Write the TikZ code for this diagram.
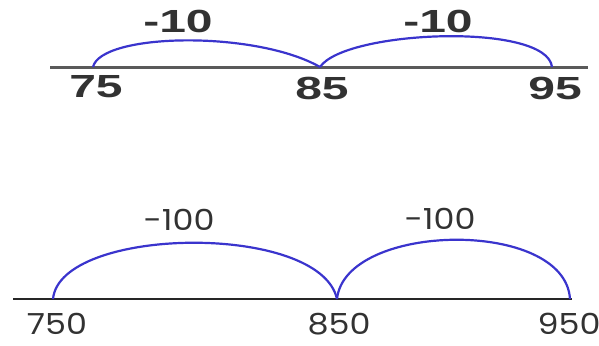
\documentclass[tikz,border=0pt]{standalone}
\usepackage{fontspec}
\usepackage{graphicx}
\newfontfamily\boldsans{Liberation Sans}[BoldFont={Liberation Sans Bold}]
\newfontfamily\roundsans{Poppins}
\definecolor{jumpblue}{RGB}{58,52,205}
\definecolor{linegray}{RGB}{90,90,90}
\definecolor{textgray}{RGB}{50,50,50}
\usetikzlibrary{positioning,calc}

\begin{document}
\begin{tikzpicture}[x=1pt,y=-1pt,
    jump/.style={jumpblue, line width=2.2pt},
    smallnum/.style={inner sep=0pt, text=textgray, font=\boldsans\bfseries\fontsize{32}{32}\selectfont},
    bignum/.style={inner sep=0pt, text=textgray, font=\roundsans\fontsize{29}{29}\selectfont}]
    \useasboundingbox (0,0) rectangle (599,345);

    % Top number line
    \coordinate (tl) at (50,67);
    \coordinate (tr) at (588,67);
    \coordinate (t75) at (93,67);
    \coordinate (t85) at (320,67);
    \coordinate (t95) at (552,67);
    \draw[linegray, line width=3pt] (tl) -- (tr);

    % Jumps of ten
    \draw[jump] (t75) .. controls (101,33) and (255,30) .. (t85);
    \draw[jump] (t85) .. controls (345,30) and (547,22) .. (t95);

    % Labels
    \node[smallnum] (n75) at (96,87) {\scalebox{1.5}[1]{75}};
    \node[smallnum] (n85) at (322,88) {\scalebox{1.5}[1]{85}};
    \node[smallnum] (n95) at (555,88) {\scalebox{1.5}[1]{95}};
    \node[smallnum] (s1) at (178,21) {\scalebox{1.5}[1]{-10}};
    \node[smallnum] (s2) at (438,21) {\scalebox{1.5}[1]{-10}};

    % Bottom number line
    \coordinate (bl) at (13,299);
    \coordinate (br) at (572,299);
    \coordinate (b750) at (53,299);
    \coordinate (b850) at (337,299);
    \coordinate (b950) at (570,299);
    \draw[black!85, line width=2pt] (bl) -- (br);

    % Jumps of a hundred
    \draw[jump] (b750) .. controls (60,226) and (320,222) .. (b850);
    \draw[jump] (b850) .. controls (345,222) and (565,218) .. (b950);

    % Labels
    \node[bignum] (n750) at (57,324) {\scalebox{1.15}[1]{750}};
    \node[bignum] (n850) at (339,324) {\scalebox{1.15}[1]{850}};
    \node[bignum] (n950) at (569,324) {\scalebox{1.15}[1]{950}};
    \node[bignum] (h1) at (179,220) {\scalebox{1.15}[1]{-100}};
    \node[bignum] (h2) at (440,219) {\scalebox{1.15}[1]{-100}};
\end{tikzpicture}
\end{document}
